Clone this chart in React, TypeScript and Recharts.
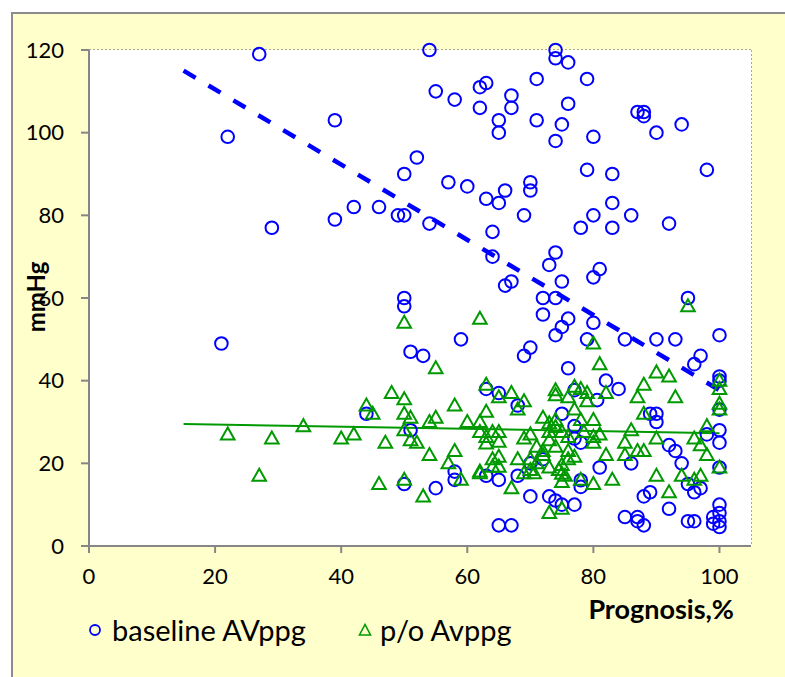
import React from "react";
import { CartesianGrid, ReferenceLine, Scatter, ScatterChart, XAxis, YAxis } from "recharts";

const xTicks = [0, 20, 40, 60, 80, 100];
const yTicks = [0, 20, 40, 60, 80, 100, 120];

// [prognosis %, mmHg]
const baselineAvppg: [number, number][] = [
  [27, 119], [22, 99], [39, 103], [29, 77], [39, 79], [21, 49],
  [54, 120], [55, 110], [58, 108], [62, 111], [63, 112], [62, 106], [65, 103], [65, 100],
  [67, 109], [67, 106], [71, 113], [71, 103],
  [52, 94], [50, 90], [57, 88], [60, 87], [63, 84], [66, 86], [65, 83], [70, 88], [70, 86],
  [69, 80], [42, 82], [46, 82], [49, 80], [50, 80], [54, 78], [64, 76], [64, 70], [66, 63], [67, 64],
  [74, 120], [74, 118], [76, 117], [79, 113], [76, 107], [75, 102], [74, 98], [80, 99],
  [87, 105], [88, 105], [88, 104], [90, 100], [94, 102], [79, 91], [83, 90], [98, 91],
  [83, 83], [80, 80], [86, 80], [78, 77], [83, 77], [92, 78], [74, 71], [73, 68], [81, 67],
  [80, 65], [75, 64],
  [50, 60], [50, 58], [51, 47], [53, 46], [44, 32], [51, 28], [50, 15], [55, 14],
  [72, 60], [74, 60], [72, 56], [75, 53], [76, 55], [74, 51], [79, 50], [59, 50], [69, 46],
  [70, 48], [76, 43], [63, 38], [65, 37], [68, 34], [75, 32], [77, 37.7], [80.6, 35.3],
  [77, 29], [77, 26], [78, 25], [72, 21], [70, 20], [58, 18], [58, 16], [63, 17], [65, 16],
  [68, 17], [70, 12], [73, 12], [74, 11], [75, 10], [77, 10], [78, 15.9], [78, 14.3],
  [65, 5], [67, 5],
  [95, 60], [80, 54], [85, 50], [90, 50], [93, 50], [100, 51], [97, 46], [96, 44],
  [82, 40], [84, 38], [100, 41], [100, 40], [100, 33], [89, 32], [90, 32], [90, 30],
  [92, 24.4], [93, 23], [94, 20], [98, 27], [100, 28], [100, 25], [100, 19], [81, 19],
  [86, 20], [88, 12], [89, 13], [95, 15], [96, 13], [97, 14], [92, 9], [85, 7], [87, 7],
  [87, 6], [88, 5], [95, 6], [96, 6], [100, 10], [100, 8], [99, 7], [100, 6], [99, 5.4], [100, 4.6],
];

const poAvppg: [number, number][] = [
  [22, 27], [27, 17], [29, 26], [34, 29], [40, 26], [42, 27], [44, 34], [45, 32], [48, 37],
  [47, 25], [46, 15],
  [50, 54], [50, 35.5], [50, 32], [51, 31], [50, 28], [51, 25.6], [52, 25], [54, 22], [55, 31],
  [54, 30], [50, 16], [53, 12], [57, 20], [55, 43],
  [62, 55], [63, 39], [65, 36], [67, 37], [69, 35], [68, 33], [58, 34], [60, 30], [62, 30],
  [63, 32.5], [62, 27.6], [64, 27.6], [65, 27.6], [63, 26.4], [63, 24.8], [65, 25.2], [58, 23],
  [59, 16], [62, 18], [64, 21], [65, 21.6], [65, 19.2], [64, 19.2], [68, 21], [67, 14],
  [69, 26], [70, 27], [71, 24], [72, 23], [70, 21], [71, 20], [72, 22], [70, 18.4], [70.6, 17.6],
  [69, 17.6], [72, 31], [73, 29.7], [74, 30.5], [73, 27.6], [74, 28.8], [75, 27.6], [73, 25.6],
  [74, 24], [76, 23], [76, 26.4], [73, 19], [74.5, 18.4], [75, 19.6], [76, 21], [77, 21.6],
  [75, 17.5], [75.5, 17], [75, 15.5], [73, 8], [75, 9], [74, 37.7], [74, 36.5], [77, 38.5],
  [78, 38], [79, 37], [76, 36], [79, 35], [77, 33], [78, 30.5], [80, 30.5], [78.5, 27.6],
  [80, 26.4], [80, 25], [78, 16], [80, 15], [62, 17.6],
  [95, 58], [80, 49], [81, 44], [90, 42], [92, 41], [88, 39], [82, 37], [87, 36], [93, 36],
  [88, 32], [100, 40], [100, 38], [100, 34.4], [100, 33], [81, 27], [82, 22], [86, 28],
  [85, 25], [85, 22], [87, 23], [88, 23], [90, 26], [96, 26], [97, 24.4], [98, 22], [98, 29],
  [100, 19], [90, 17], [94, 17], [96, 16], [97, 17], [92, 13], [83, 16],
];

const baselineTrend = [
  { x: 15, y: 115 },
  { x: 100, y: 37.7 },
];
const poTrend = [
  { x: 15, y: 29.5 },
  { x: 100, y: 27.3 },
];

const BLUE = "#0000FF";
const GREEN = "#009900";
const AXIS = "#868686";
const FONT = "Lato, 'Open Sans', sans-serif";

const toPoints = (rows: [number, number][]) => rows.map(([x, y]) => ({ x, y }));

const CircleMark = (props: any) => (
  <circle cx={props.cx} cy={props.cy} r={6.3} fill="none" stroke={BLUE} strokeWidth={2} />
);

const TriangleMark = (props: any) => {
  const { cx, cy } = props;
  const pts = `${cx},${cy - 7} ${cx - 6.8},${cy + 5} ${cx + 6.8},${cy + 5}`;
  return <polygon points={pts} fill="none" stroke={GREEN} strokeWidth={2} strokeLinejoin="miter" />;
};

// legend drawn as plain html, a recharts Legend would shrink the plot
function ChartLegend() {
  return (
    <div
      style={{
        position: "absolute",
        left: 0,
        top: 612,
        display: "flex",
        alignItems: "center",
        fontFamily: FONT,
        fontSize: 29,
        color: "#000",
        whiteSpace: "nowrap",
      }}
    >
      <svg width={14} height={14} style={{ marginLeft: 88, marginRight: 10 }}>
        <circle cx={7} cy={7} r={5} fill="none" stroke={BLUE} strokeWidth={1.8} />
      </svg>
      <span>baseline AVppg</span>
      <svg width={14} height={14} style={{ marginLeft: 52, marginRight: 8 }}>
        <polygon points="7,1.5 1.5,12 12.5,12" fill="none" stroke={GREEN} strokeWidth={1.6} />
      </svg>
      <span>p/o Avppg</span>
    </div>
  );
}

export default function App() {
  return (
    <div style={{ position: "absolute", left: 0, top: 0, width: 785, height: 677, background: "#fff", overflow: "hidden" }}>
      <div
        style={{
          position: "absolute",
          left: 11,
          top: 12,
          width: 800,
          height: 700,
          background: "#FFFFCC",
          border: "2px solid #8c8c8c",
        }}
      />
      <div style={{ position: "absolute", left: 0, top: 0 }}>
        <ScatterChart width={785} height={677} margin={{ top: 50, right: 34, bottom: 71, left: 0 }}>
          <rect x={89} y={50} width={662} height={496} fill="#fff" />
          <CartesianGrid stroke="#8a8a8a" strokeDasharray="2 2" strokeWidth={1.5} />
          <XAxis
            type="number"
            dataKey="x"
            domain={[0, 105]}
            ticks={xTicks}
            allowDataOverflow
            axisLine={{ stroke: AXIS, strokeWidth: 2 }}
            tickLine={{ stroke: AXIS, strokeWidth: 2 }}
            tickSize={7}
            tickMargin={15}
            tick={{ fill: "#000", fontSize: 22, fontFamily: FONT }}
            height={60}
            label={() => (
              <text x={734} y={619} textAnchor="end" fontFamily={FONT} fontWeight="bold" fontSize={27} fill="#000">
                Prognosis,%
              </text>
            )}
          />
          <YAxis
            type="number"
            dataKey="y"
            domain={[0, 120]}
            ticks={yTicks}
            width={89}
            axisLine={{ stroke: AXIS, strokeWidth: 2 }}
            tickLine={{ stroke: AXIS, strokeWidth: 2 }}
            tickSize={8}
            tickMargin={17}
            tick={{ fill: "#000", fontSize: 22, fontFamily: FONT }}
            label={() => (
              <text
                x={35}
                y={297}
                transform="rotate(-90 35 297)"
                textAnchor="middle"
                dominantBaseline="central"
                fontFamily={FONT}
                fontWeight="bold"
                fontSize={24}
                fill="#000"
              >
                mmHg
              </text>
            )}
          />
          <Scatter name="baseline AVppg" data={toPoints(baselineAvppg)} shape={CircleMark} isAnimationActive={false} />
          <Scatter name="p/o Avppg" data={toPoints(poAvppg)} shape={TriangleMark} isAnimationActive={false} />
          <ReferenceLine
            segment={baselineTrend}
            stroke={BLUE}
            strokeWidth={4.5}
            strokeDasharray="14 15"
            ifOverflow="visible"
          />
          <ReferenceLine segment={poTrend} stroke={GREEN} strokeWidth={2} ifOverflow="visible" />
        </ScatterChart>
      </div>
      <ChartLegend />
    </div>
  );
}
